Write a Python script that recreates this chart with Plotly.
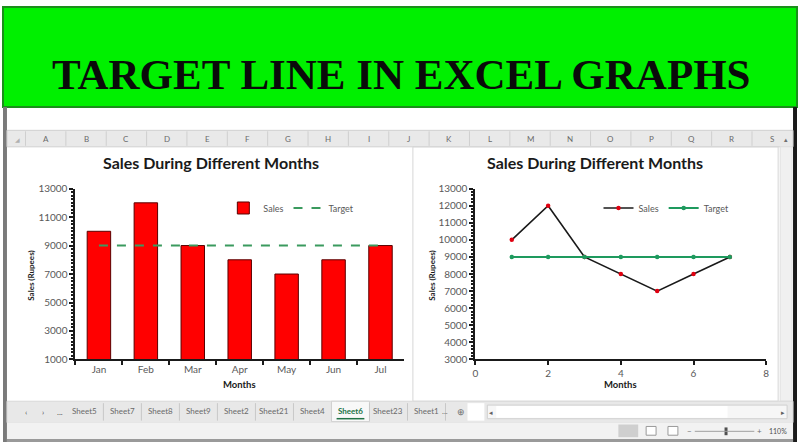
import plotly.graph_objects as go

# データ
months = ['Jan', 'Feb', 'Mar', 'Apr', 'May', 'Jun', 'Jul']
month_num = [1, 2, 3, 4, 5, 6, 7]
sales = [10000, 12000, 9000, 8000, 7000, 8000, 9000]
target = [9000, 9000, 9000, 9000, 9000, 9000, 9000]

banner_text = 'TARGET LINE IN EXCEL GRAPHS'
chart_title = 'Sales During Different Months'
col_letters = list('ABCDEFGHIJKLMNOPQRS')
sheet_tabs = ['Sheet5', 'Sheet7', 'Sheet8', 'Sheet9', 'Sheet2', 'Sheet21', 'Sheet4', 'Sheet6', 'Sheet23', 'Sheet1']
active_tab = 'Sheet6'
zoom_label = '110%'

W, H = 800, 448
FONT = 'Lato'
TXT = '#595959'


def px(x):
    return x / W


def py(y):
    return 1 - y / H


def rect(x0, y0, x1, y1, fill, line=None, lw=0, layer='below'):
    return dict(type='rect', xref='paper', yref='paper', layer=layer,
                x0=px(x0), x1=px(x1), y0=py(y1), y1=py(y0),
                fillcolor=fill, line=dict(color=line or fill, width=lw))


def vline(x, y0, y1, color, lw=1):
    return dict(type='line', xref='paper', yref='paper', layer='below',
                x0=px(x), x1=px(x), y0=py(y1), y1=py(y0), line=dict(color=color, width=lw))


def label(x, y, text, size=9, color=TXT, bold=False, angle=0, family=FONT):
    if bold:
        text = f'<b>{text}</b>'
    return dict(x=px(x), y=py(y), xref='paper', yref='paper', text=text, showarrow=False,
                textangle=angle, font=dict(family=family, size=size, color=color),
                xanchor='center', yanchor='middle')


fig = go.Figure()

# 左：棒グラフ + 目標線
fig.add_trace(go.Bar(x=months, y=sales, name='Sales', legend='legend',
                     marker=dict(color='#ff0000', line=dict(color='#5a0000', width=1))))
fig.add_trace(go.Scatter(x=months, y=target, name='Target', mode='lines', legend='legend',
                         line=dict(color='#3a9a5e', width=2, dash='dash')))

# 右：折れ線グラフ
fig.add_trace(go.Scatter(x=month_num, y=sales, name='Sales', mode='lines+markers',
                         xaxis='x2', yaxis='y2', legend='legend2',
                         line=dict(color='#1a1a1a', width=1.6),
                         marker=dict(color='#e00010', size=4.5)))
fig.add_trace(go.Scatter(x=month_num, y=target, name='Target', mode='lines+markers',
                         xaxis='x2', yaxis='y2', legend='legend2',
                         line=dict(color='#1e9a5e', width=2),
                         marker=dict(color='#1e9a5e', size=4.5)))

axis_common = dict(showgrid=False, zeroline=False, showline=True, linecolor='#1a1a1a', linewidth=2,
                   ticks='outside', tickcolor='#1a1a1a', ticklen=4, tickwidth=1.5,
                   tickfont=dict(family=FONT, size=10, color=TXT))

shapes = []
annotations = []

# 上部の緑バナー
shapes.append(rect(0, 0, 800, 103, '#00f000', '#1b8f1b', 2))
annotations.append(dict(x=px(402), y=py(70), xref='paper', yref='paper', text=f'<b>{banner_text}</b>',
                        showarrow=False, font=dict(family='Liberation Serif', size=43, color='#0a0a0a'),
                        xanchor='center', yanchor='middle'))

# 左右の枠
shapes.append(rect(0, 103, 4, 448, '#7a7a7a'))
shapes.append(rect(796, 103, 800, 448, '#1a1a1a'))

# 列見出し
shapes.append(rect(4, 127, 796, 144, '#e9e9e9', '#d0d0d0', 1))
col_step = (775 - 43) / (len(col_letters) - 1)
for i, c in enumerate(col_letters):
    cx = 43 + i * col_step
    annotations.append(label(cx, 135.5, c, size=8, color='#6a6a6a'))
    shapes.append(vline(cx - col_step / 2, 128, 143, '#cfcfcf'))
annotations.append(label(15, 136, '◢', size=6, color='#b0b0b0'))

# 右グラフの枠とスクロールバー
shapes.append(rect(413, 144, 781, 406, 'rgba(0,0,0,0)', '#d6d6d6', 1))
shapes.append(rect(783, 144, 795, 406, '#f0f0f0', '#e0e0e0', 1))
annotations.append(label(789, 136, '▴', size=7, color='#707070'))

# シートタブ
shapes.append(rect(4, 406, 796, 428, '#e8e8e8', '#d8d8d8', 1))
for i, t in enumerate(['‹', '›', '...']):
    annotations.append(label(23 + i * 17, 417, t, size=8, color='#505050'))
tab_step = 38.3
for i, t in enumerate(sheet_tabs):
    cx = 82 + i * tab_step
    if t == active_tab:
        shapes.append(rect(cx - tab_step / 2, 406, cx + tab_step / 2, 427, '#f8f8f8', '#d0d0d0', 1))
        shapes.append(dict(type='line', xref='paper', yref='paper', x0=px(cx - 14), x1=px(cx + 14),
                           y0=py(424), y1=py(424), line=dict(color='#217346', width=1.5)))
        annotations.append(label(cx, 416, t, size=8, color='#217346', bold=True))
    else:
        annotations.append(label(cx, 416, t, size=8, color='#6a6a6a'))
    shapes.append(vline(cx + tab_step / 2, 408, 426, '#c8c8c8'))
annotations.append(label(445, 416, '...', size=8, color='#6a6a6a'))
annotations.append(label(461, 417, '⊕', size=9, color='#707070'))
shapes.append(rect(468, 408, 485, 426, '#ffffff'))
shapes.append(rect(488, 410, 790, 424, '#f6f6f6', '#d0d0d0', 1))
shapes.append(rect(497, 411, 730, 423, '#ffffff'))
annotations.append(label(492, 417, '◂', size=7, color='#606060'))
annotations.append(label(786, 417, '▸', size=7, color='#606060'))

# ステータスバー
shapes.append(rect(4, 428, 796, 448, '#f2f2f2'))
shapes.append(rect(4, 445, 796, 448, '#9a9a9a'))
shapes.append(rect(620, 430, 640, 443, '#cfcfcf'))
shapes.append(rect(648, 432, 658, 441, '#ffffff', '#9a9a9a', 1))
shapes.append(rect(670, 432, 680, 441, '#ffffff', '#9a9a9a', 1))
shapes.append(dict(type='line', xref='paper', yref='paper', x0=px(697), x1=px(757), y0=py(437), y1=py(437),
                   line=dict(color='#a0a0a0', width=1)))
shapes.append(rect(727, 433, 730, 441, '#505050'))
annotations.append(label(692, 437, '−', size=8, color='#707070'))
annotations.append(label(762, 437, '+', size=8, color='#707070'))
annotations.append(label(781, 437, zoom_label, size=7, color='#505050'))

# グラフのタイトル・軸タイトル
for cx, mx, ax in [(210, 238, 28), (596, 622, 432)]:
    annotations.append(label(cx, 160, chart_title, size=16, color='#1a1a1a', bold=True))
    annotations.append(label(mx, 389, 'Months', size=9.5, color='#1a1a1a', bold=True))
    annotations.append(label(ax, 277, 'Sales (Rupees)', size=8, color='#1a1a1a', bold=True, angle=-90))

fig.update_layout(
    autosize=True,
    margin=dict(l=0, r=0, t=0, b=0),
    paper_bgcolor='white', plot_bgcolor='rgba(0,0,0,0)',
    bargap=0.5,
    xaxis=dict(axis_common, domain=[px(73), px(404)], type='category', tickson='boundaries',
               anchor='y'),
    yaxis=dict(axis_common, domain=[py(363), py(187)], range=[1000, 13000], dtick=2000, tick0=1000,
               tickformat='d', anchor='x',
               minor=dict(ticks='outside', dtick=250, ticklen=2, tickcolor='#1a1a1a')),
    xaxis2=dict(axis_common, domain=[px(476), px(769)], range=[0, 8], dtick=2, anchor='y2'),
    yaxis2=dict(axis_common, domain=[py(363), py(187)], range=[3000, 13000], dtick=1000,
                tickformat='d', anchor='x2',
                minor=dict(ticks='outside', dtick=200, ticklen=2, tickcolor='#1a1a1a')),
    legend=dict(orientation='h', x=px(222), y=py(207), xanchor='left', yanchor='middle',
                bgcolor='rgba(0,0,0,0)', font=dict(family=FONT, size=9, color=TXT),
                itemwidth=30, traceorder='normal'),
    legend2=dict(orientation='h', x=px(600), y=py(207), xanchor='left', yanchor='middle',
                 bgcolor='rgba(0,0,0,0)', font=dict(family=FONT, size=9, color=TXT),
                 itemwidth=30, traceorder='normal'),
    shapes=shapes,
    annotations=annotations,
)

# ページ余白を消してビューポート全体に描画
fix_page = (
    "document.documentElement.style.overflow='hidden';"
    "document.body.style.margin='0';document.body.style.padding='0';"
    "document.body.style.overflow='hidden';"
    "var d=document.getElementById('{plot_id}');"
    "d.style.position='fixed';d.style.left='0px';d.style.top='0px';"
    "d.style.width='100vw';d.style.height='100vh';"
    "Plotly.Plots.resize(d);"
)
fig.write_html('out.html', default_width='100vw', default_height='100vh',
               config={'displayModeBar': False, 'responsive': True}, post_script=fix_page)
